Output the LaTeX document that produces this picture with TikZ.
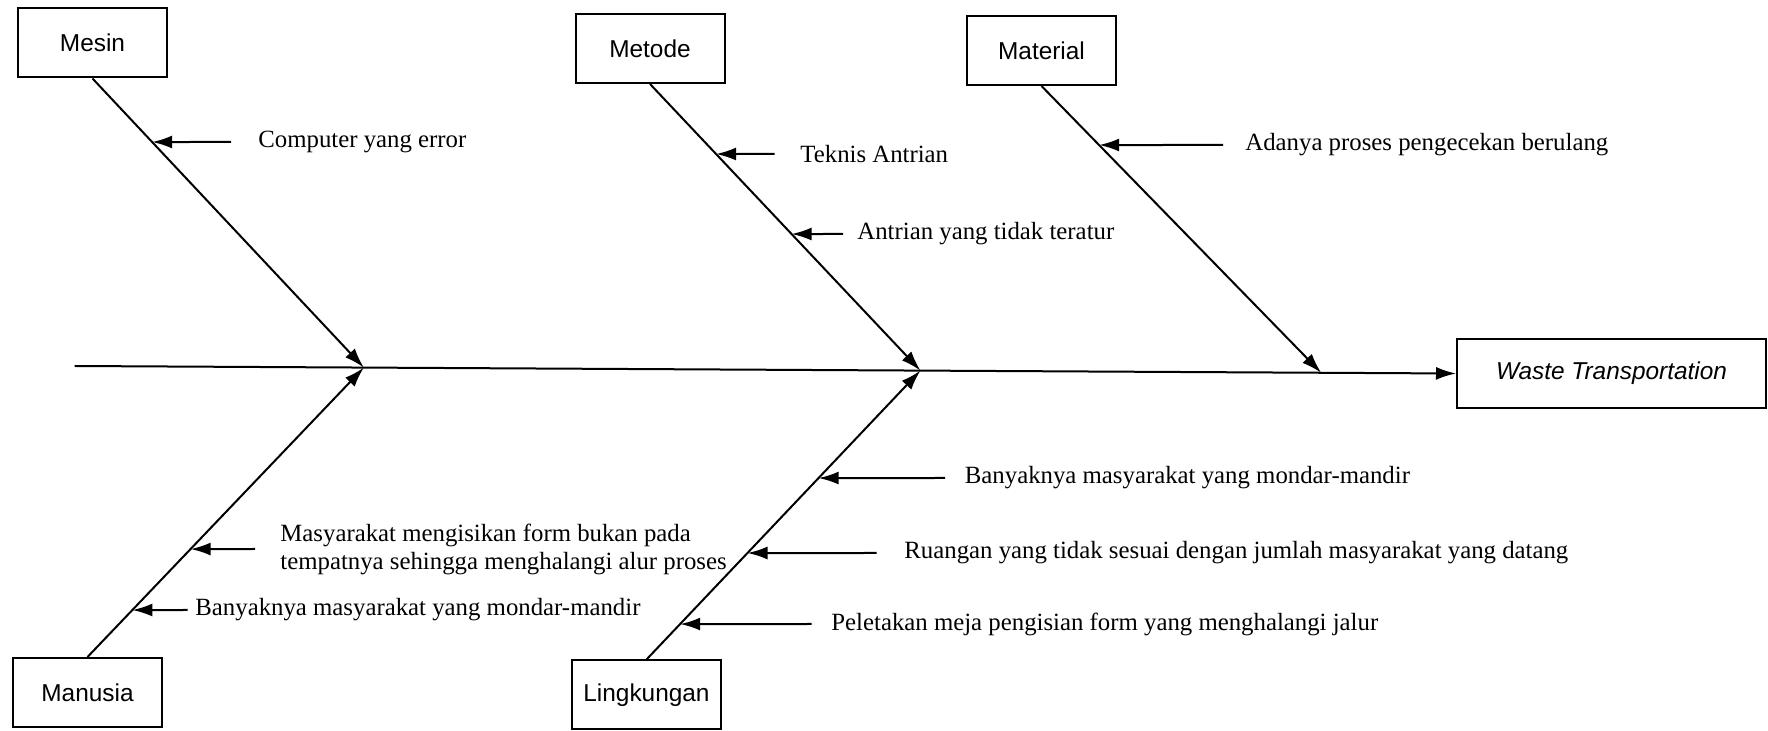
\documentclass[tikz,border=0pt]{standalone}
\usepackage{fontspec}
\setmainfont{Liberation Serif}
\newfontfamily\boxfont{Liberation Sans}
\usetikzlibrary{arrows.meta,calc}
\begin{document}
\begin{tikzpicture}[x=0.5pt,y=-0.5pt,
  cause/.style={draw,line width=1pt,minimum width=74.5pt,minimum height=34.5pt,
    inner sep=0pt,font=\boxfont\fontsize{12.2}{14}\selectfont},
  bone/.style={line width=1pt,-{Latex[length=10pt,width=6.5pt]}},
  note/.style={anchor=west,inner sep=0pt,align=left,
    font=\fontsize{12.4}{14}\selectfont},
  pointer/.style={line width=1pt,-{Latex[length=10pt,width=6.5pt]}}]

\useasboundingbox (0,0) rectangle (1768,731);

% category boxes and the effect
\node[cause] (mesin)      at (92.5,43)   {Mesin};
\node[cause] (metode)     at (650,48.5)  {Metode};
\node[cause] (material)   at (1041.5,50.5) {Material};
\node[cause] (manusia)    at (87.5,692.5) {Manusia};
\node[cause] (lingkungan) at (646.5,695) {Lingkungan};
\node[cause,minimum width=154.5pt] (effect) at (1611.5,373.5) {\itshape Waste Transportation};

% spine
\coordinate (spine0) at (74.6,366);
\draw[bone] (spine0) -- (effect.west);
\coordinate (j1) at ($(spine0)!0.2094!(effect.west)$);
\coordinate (j2) at ($(spine0)!0.6123!(effect.west)$);
\coordinate (j3) at ($(spine0)!0.9024!(effect.west)$);

% main bones
\draw[bone] (mesin.south) -- (j1);
\draw[bone] (manusia.north) -- (j1);
\draw[bone] (metode.south) -- (j2);
\draw[bone] (lingkungan.north) -- (j2);
\draw[bone] (material.south) -- (j3);

% causes: Mesin
\coordinate (a1) at (231,142);
\node[note] (n1) at (258,142) {Computer yang error};
\draw[pointer] (a1) -- (intersection of mesin.south--j1 and a1--n1.west);

% causes: Metode
\coordinate (a2) at (774.5,154);
\node[note] (n2) at (800,154) {Teknis Antrian};
\draw[pointer] (a2) -- (intersection of metode.south--j2 and a2--n2.west);

\coordinate (a3) at (843,234);
\node[note] (n3) at (857,234) {Antrian yang tidak teratur};
\draw[pointer] (a3) -- (intersection of metode.south--j2 and a3--n3.west);

% causes: Material
\coordinate (a4) at (1223,145);
\node[note] (n4) at (1245,145) {Adanya proses pengecekan berulang};
\draw[pointer] (a4) -- (intersection of material.south--j3 and a4--n4.west);

% causes: Lingkungan
\coordinate (a5) at (945,478);
\node[note] (n5) at (964.5,478) {Banyaknya masyarakat yang mondar-mandir};
\draw[pointer] (a5) -- (intersection of lingkungan.north--j2 and a5--n5.west);

\coordinate (a6) at (876.5,553);
\node[note] (n6) at (904,553) {Ruangan yang tidak sesuai dengan jumlah masyarakat yang datang};
\draw[pointer] (a6) -- (intersection of lingkungan.north--j2 and a6--n6.west);

\coordinate (a7) at (811.5,624);
\node[note] (n7) at (831,624) {Peletakan meja pengisian form yang menghalangi jalur};
\draw[pointer] (a7) -- (intersection of lingkungan.north--j2 and a7--n7.west);

% causes: Manusia
\coordinate (a8) at (255,549);
\node[note] (n8) at (280,549) {Masyarakat mengisikan form bukan pada\\tempatnya sehingga menghalangi alur proses};
\draw[pointer] (a8) -- (intersection of manusia.north--j1 and a8--n8.west);

\coordinate (a9) at (187.5,610);
\node[note] (n9) at (195,610) {Banyaknya masyarakat yang mondar-mandir};
\draw[pointer] (a9) -- (intersection of manusia.north--j1 and a9--n9.west);

\end{tikzpicture}
\end{document}
